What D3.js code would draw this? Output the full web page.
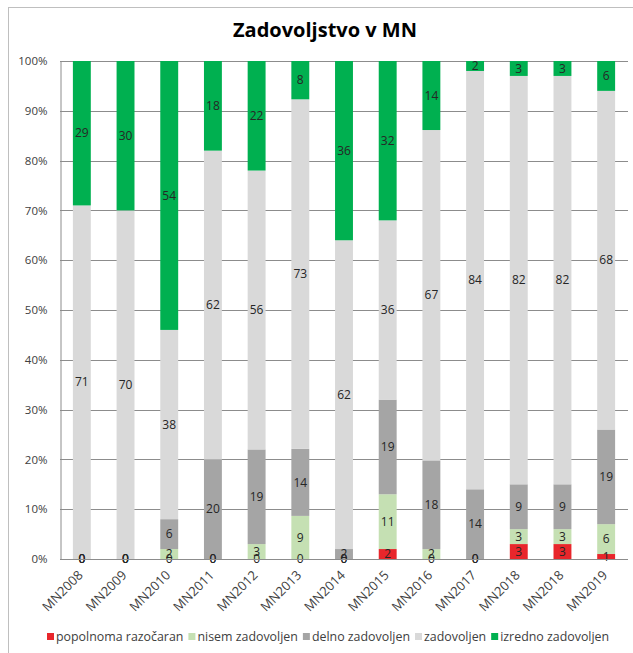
<!DOCTYPE html>
<html>
<head>
<meta charset="utf-8">
<script src="https://cdn.jsdelivr.net/npm/d3@7"></script>
<style>
  html, body { margin: 0; padding: 0; background: #fff; }
  svg { display: block; }
  text { font-family: "Open Sans", "Liberation Sans", sans-serif; }
</style>
</head>
<body>
<svg id="chart" width="633" height="653"></svg>
<script>
// Survey categories (one bar per survey)
const categories = ["MN2008","MN2009","MN2010","MN2011","MN2012","MN2013","MN2014",
                    "MN2015","MN2016","MN2017","MN2018","MN2018","MN2019"];

// Response series, bottom to top of each stack
const seriesNames = ["popolnoma razočaran","nisem zadovoljen","delno zadovoljen","zadovoljen","izredno zadovoljen"];
const popolnomaRazocaran = [0, 0, 0, 0, 0, 0, 0, 2, 0, 0, 3, 3, 1];
const nisemZadovoljen    = [0, 0, 2, 0, 3, 9, 0, 11, 2, 0, 3, 3, 6];
const delnoZadovoljen    = [0, 0, 6, 20, 19, 14, 2, 19, 18, 14, 9, 9, 19];
const zadovoljen         = [71, 70, 38, 62, 56, 73, 62, 36, 67, 84, 82, 82, 68];
const izrednoZadovoljen  = [29, 30, 54, 18, 22, 8, 36, 32, 14, 2, 3, 3, 6];

const seriesColors = ["#e8262b", "#c5e0b3", "#a5a5a5", "#d9d9d9", "#00b050"];
const yTicks = [0, 0.1, 0.2, 0.3, 0.4, 0.5, 0.6, 0.7, 0.8, 0.9, 1.0];

const seriesValues = [popolnomaRazocaran, nisemZadovoljen, delnoZadovoljen, zadovoljen, izrednoZadovoljen];

// Rows keyed by index, since a category label repeats
const rows = categories.map((c, i) => {
  const r = { idx: i, cat: c };
  seriesNames.forEach((s, k) => { r[s] = seriesValues[k][i]; });
  return r;
});

const stacked = d3.stack()
  .keys(seriesNames)
  .offset(d3.stackOffsetExpand)(rows);

const svg = d3.select("#chart");
const W = 633, H = 653;
const plot = { left: 60, right: 628, top: 61, bottom: 559 };

// Chart frame
svg.append("rect")
  .attr("x", 8.5).attr("y", 7.5)
  .attr("width", W + 10).attr("height", H + 10)
  .attr("fill", "#fff").attr("stroke", "#bfbfbf").attr("stroke-width", 1);

// Title
svg.append("text")
  .attr("x", 325).attr("y", 37)
  .attr("text-anchor", "middle")
  .attr("font-size", 20).attr("font-weight", 700)
  .attr("fill", "#000")
  .text("Zadovoljstvo v MN");

const x = d3.scaleBand()
  .domain(d3.range(categories.length))
  .range([plot.left, plot.right])
  .paddingInner(0.59)
  .paddingOuter(0.295);

const y = d3.scaleLinear().domain([0, 1]).range([plot.bottom, plot.top]);

// Horizontal gridlines
svg.append("g")
  .selectAll("line")
  .data(yTicks)
  .join("line")
  .attr("x1", plot.left).attr("x2", plot.right)
  .attr("y1", d => Math.round(y(d)) + 0.5).attr("y2", d => Math.round(y(d)) + 0.5)
  .attr("stroke", "#8c8c8c").attr("stroke-width", 1);

// Y axis
const yAxis = svg.append("g")
  .attr("transform", `translate(${plot.left + 0.5},0)`)
  .call(d3.axisLeft(y).tickValues(yTicks).tickFormat(d3.format(".0%")).tickSize(0).tickPadding(13));
yAxis.select(".domain").attr("stroke", "#8c8c8c");
yAxis.selectAll("text").attr("font-size", 11.5).attr("fill", "#404040")
  .attr("font-family", "'Open Sans', sans-serif");

// Bars
const layers = svg.append("g")
  .selectAll("g")
  .data(stacked)
  .join("g")
  .attr("fill", (d, i) => seriesColors[i]);

layers.selectAll("rect")
  .data(d => d)
  .join("rect")
  .attr("x", d => x(d.data.idx))
  .attr("width", x.bandwidth())
  .attr("y", d => y(d[1]))
  .attr("height", d => y(d[0]) - y(d[1]));

// Value labels at the centre of each segment
const labels = svg.append("g")
  .attr("font-size", 12)
  .attr("fill", "#262626")
  .attr("text-anchor", "middle");

stacked.forEach((layer, k) => {
  layer.forEach(d => {
    const v = d.data[seriesNames[k]];
    labels.append("text")
      .attr("x", x(d.data.idx) + x.bandwidth() / 2)
      .attr("y", y((d[0] + d[1]) / 2))
      .attr("dy", "0.35em")
      .text(v);
  });
});

// X axis baseline
svg.append("line")
  .attr("x1", plot.left).attr("x2", plot.right)
  .attr("y1", plot.bottom + 0.5).attr("y2", plot.bottom + 0.5)
  .attr("stroke", "#8c8c8c");

// Category labels, rotated
svg.append("g")
  .selectAll("text")
  .data(categories)
  .join("text")
  .attr("transform", (d, i) => `translate(${x(i) + x.bandwidth() / 2 + 2},${plot.bottom + 17}) rotate(-45)`)
  .attr("text-anchor", "end")
  .attr("font-size", 13)
  .attr("fill", "#404040")
  .text(d => d);

// Legend
const legend = svg.append("g").attr("font-size", 12.4).attr("fill", "#404040");
const items = legend.selectAll("g").data(seriesNames).join("g");
items.append("rect").attr("width", 7).attr("height", 7).attr("y", -7)
  .attr("fill", (d, i) => seriesColors[i]);
items.append("text").attr("x", 9).attr("y", 0).attr("dy", "0.1em").text(d => d);
let lx = 0;
items.each(function () {
  d3.select(this).attr("transform", `translate(${lx},0)`);
  lx += this.getBBox().width + 5;
});
legend.attr("transform", `translate(${Math.round(328 - (lx - 5) / 2)},640)`);
</script>
</body>
</html>
